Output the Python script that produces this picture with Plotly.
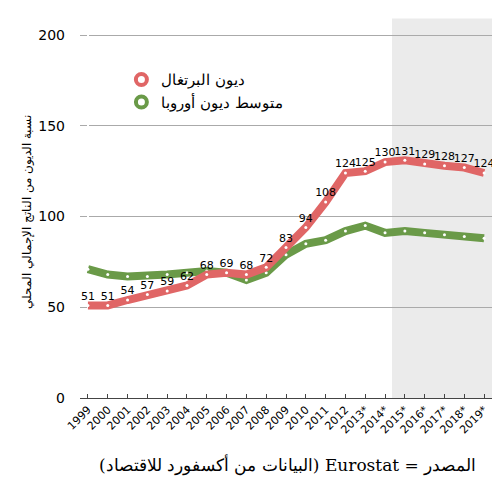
import plotly.graph_objects as go

years = ["1999", "2000", "2001", "2002", "2003", "2004", "2005", "2006", "2007", "2008", "2009",
         "2010", "2011", "2012", "2013*", "2014*", "2015*", "2016*", "2017*", "2018*", "2019*"]
portugal = [51, 51, 54, 57, 59, 62, 68, 69, 68, 72, 83, 94, 108, 124, 125, 130, 131, 129, 128, 127, 124]
europe = [71, 68, 67, 67, 68, 69, 70, 69, 65, 69, 79, 85, 87, 92, 95, 91, 92, 91, 90, 89, 88]

idx = list(range(len(years)))
red = "#e06666"
green = "#6a9a48"

fig = go.Figure()
# shaded forecast zone
fig.add_shape(type="rect", xref="x", yref="paper", x0=15.35, x1=20.5, y0=0, y1=1.02,
              fillcolor="#ebebeb", line_width=0, layer="below")

for name, vals, col, text in [("متوسط ديون أوروبا", europe, green, False),
                              ("ديون البرتغال", portugal, red, True)]:
    fig.add_trace(go.Scatter(x=idx, y=vals, mode="lines", line=dict(color=col, width=8),
                             showlegend=False, hoverinfo="skip"))
    fig.add_trace(go.Scatter(x=idx, y=vals, mode="markers+text" if text else "markers",
                             text=[str(v) for v in vals] if text else None,
                             textposition="top center", textfont=dict(size=11, color="black"),
                             marker=dict(color="white", size=3), showlegend=False))
    fig.add_trace(go.Scatter(x=[None], y=[None], mode="markers", name=name,
                             marker=dict(symbol="circle-open", size=11, color=col,
                                         line=dict(width=4, color=col))))

fig.update_layout(
    width=500, height=484, plot_bgcolor="white", paper_bgcolor="white",
    margin=dict(l=72, r=14, t=18, b=94),
    font=dict(family="DejaVu Sans", color="black"),
    legend=dict(x=0.1, y=0.9, xanchor="left", yanchor="top", traceorder="reversed",
                font=dict(size=15, family="DejaVu Serif"), bgcolor="rgba(0,0,0,0)"),
    annotations=[dict(text="\u202bالمصدر = Eurostat (البيانات من أكسفورد للاقتصاد)\u202c",
                      xref="paper", yref="paper", x=0.5, y=-0.18, xanchor="center",
                      yanchor="middle", showarrow=False,
                      font=dict(size=17, family="DejaVu Serif"))],
)
fig.update_xaxes(tickmode="array", tickvals=idx, ticktext=years, tickangle=-45,
                 range=[-0.4, 20.5], showgrid=False, ticks="inside", ticklen=4,
                 showline=True, linecolor="#444", tickfont=dict(size=11))
fig.update_yaxes(range=[0, 205], tickvals=[0, 50, 100, 150, 200], gridcolor="#aaaaaa",
                 zeroline=False, tickfont=dict(size=14), ticklabelstandoff=14,
                 title=dict(text="نسبة الديون من الناتج الإجمالي المحلي",
                            font=dict(size=12, family="DejaVu Serif"), standoff=4))

fig.write_html("out.html")
